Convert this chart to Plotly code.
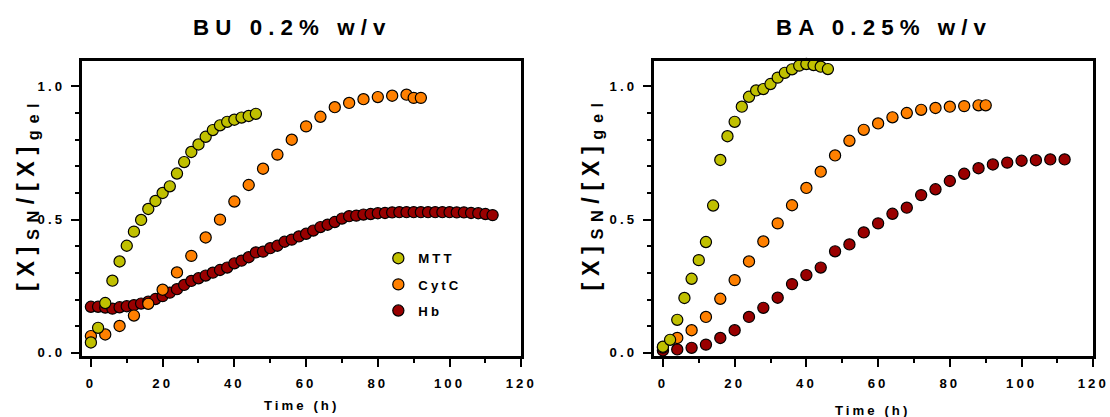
import plotly.graph_objects as go

# reference canvas is 1110 x 417; the page is rendered slightly larger and shrunk
REF_W, REF_H = 1110, 417
K = 1110 / 1094
W, H = round(REF_W * K), round(REF_H * K)

# ---------------- data ----------------
bu_mtt_t = list(range(0, 47, 2))
bu_mtt_y = [0.039, 0.094, 0.187, 0.271, 0.343, 0.402, 0.455, 0.499, 0.540, 0.570,
            0.600, 0.625, 0.673, 0.716, 0.754, 0.782, 0.811, 0.836, 0.854, 0.867,
            0.875, 0.883, 0.889, 0.897]

bu_cytc_t = list(range(0, 89, 4)) + [90, 92]
bu_cytc_y = [0.063, 0.069, 0.101, 0.140, 0.184, 0.237, 0.302, 0.364, 0.433, 0.500,
             0.568, 0.630, 0.691, 0.744, 0.800, 0.850, 0.886, 0.922, 0.938, 0.952,
             0.960, 0.965, 0.969, 0.957, 0.957]

bu_hb_t = list(range(0, 113, 2))
bu_hb_y = [0.173, 0.173, 0.170, 0.166, 0.171, 0.175, 0.179, 0.185, 0.192, 0.202,
           0.213, 0.226, 0.239, 0.255, 0.270, 0.280, 0.290, 0.301, 0.311, 0.320,
           0.336, 0.346, 0.359, 0.377, 0.380, 0.393, 0.402, 0.417, 0.425, 0.437,
           0.447, 0.459, 0.472, 0.481, 0.491, 0.504, 0.513, 0.515, 0.519, 0.521,
           0.524, 0.525, 0.527, 0.528, 0.528, 0.528, 0.528, 0.528, 0.528, 0.528,
           0.528, 0.527, 0.527, 0.525, 0.524, 0.521, 0.517]

ba_mtt_t = list(range(0, 47, 2))
ba_mtt_y = [0.023, 0.049, 0.124, 0.206, 0.278, 0.348, 0.416, 0.553, 0.724, 0.813,
            0.867, 0.924, 0.961, 0.985, 0.990, 1.009, 1.033, 1.051, 1.064, 1.078,
            1.084, 1.080, 1.074, 1.065]

ba_cytc_t = list(range(0, 89, 4)) + [90]
ba_cytc_y = [0.020, 0.056, 0.085, 0.135, 0.203, 0.273, 0.343, 0.418, 0.486, 0.554,
             0.619, 0.680, 0.741, 0.796, 0.837, 0.861, 0.884, 0.900, 0.912, 0.919,
             0.924, 0.926, 0.929, 0.929]

ba_hb_t = list(range(0, 113, 4))
ba_hb_y = [0.009, 0.013, 0.019, 0.031, 0.056, 0.085, 0.135, 0.169, 0.207, 0.258,
           0.292, 0.320, 0.381, 0.407, 0.452, 0.486, 0.522, 0.545, 0.592, 0.614,
           0.645, 0.672, 0.693, 0.707, 0.714, 0.721, 0.723, 0.726, 0.726]

x_ticks = [0, 20, 40, 60, 80, 100, 120]
x_minor = [10, 30, 50, 70, 90, 110]
y_ticks = [0.0, 0.5, 1.0]
y_ticklabels = ["0.0", "0.5", "1.0"]
y_minor = [0.1, 0.2, 0.3, 0.4, 0.6, 0.7, 0.8, 0.9]

series_names = ["MTT", "CytC", "Hb"]
colors = {"MTT": "rgb(192,192,0)", "CytC": "rgb(255,128,0)", "Hb": "rgb(153,0,0)"}

titles = ["BU 0.2% w/v", "BA 0.25% w/v"]
x_title = "Time (h)"

FONT = "Liberation Sans, Arial, sans-serif"


def s(v):
    return v * K


def sp(text, px):
    return f'<span style="letter-spacing:{s(px):.2f}px">{text}</span>'


fig = go.Figure()

panels = [
    (("x", "y"), {"MTT": (bu_mtt_t, bu_mtt_y), "CytC": (bu_cytc_t, bu_cytc_y), "Hb": (bu_hb_t, bu_hb_y)}, True),
    (("x2", "y2"), {"MTT": (ba_mtt_t, ba_mtt_y), "CytC": (ba_cytc_t, ba_cytc_y), "Hb": (ba_hb_t, ba_hb_y)}, False),
]

rank = {"MTT": 1, "CytC": 2, "Hb": 3}
for (xa, ya), data, legend in panels:
    for name in ["Hb", "CytC", "MTT"]:
        t, v = data[name]
        fig.add_trace(go.Scatter(
            x=t, y=v, xaxis=xa, yaxis=ya, mode="markers",
            name=sp(name, 3), showlegend=legend, legendrank=rank[name],
            legendgroup=name, cliponaxis=False,
            marker=dict(size=s(11), color=colors[name], line=dict(color="black", width=1.2)),
        ))


def px_x(p):
    return p / REF_W


def px_y(p):
    return 1 - p / REF_H


common_x = dict(
    range=[-2.6, 120.05], showline=True, linewidth=s(2.5), linecolor="black", mirror=True,
    showgrid=False, zeroline=False, ticks="outside", ticklen=s(8), tickwidth=2, tickcolor="black",
    tickmode="array", tickvals=x_ticks, ticktext=[sp(str(v), 3) for v in x_ticks],
    tickfont=dict(family=FONT, size=s(13), color="black", weight="bold"),
    minor=dict(tickmode="array", tickvals=x_minor, ticks="outside", ticklen=s(4), tickwidth=2, tickcolor="black"),
    ticklabelstandoff=5,
)
common_y = dict(
    range=[-0.0125, 1.095], showline=True, linewidth=s(2.5), linecolor="black", mirror=True,
    showgrid=False, zeroline=False, ticks="outside", ticklen=s(8), tickwidth=2, tickcolor="black",
    tickmode="array", tickvals=y_ticks, ticktext=[sp(t, 3) for t in y_ticklabels],
    tickfont=dict(family=FONT, size=s(13), color="black", weight="bold"),
    minor=dict(tickmode="array", tickvals=y_minor, ticks="outside", ticklen=s(4), tickwidth=2, tickcolor="black"),
    ticklabelstandoff=3,
)

ydom = [px_y(354.5), px_y(60.8)]
fig.update_layout(
    width=W, height=H, autosize=False, margin=dict(l=0, r=0, t=0, b=0),
    paper_bgcolor="white", plot_bgcolor="white",
    xaxis=dict(domain=[px_x(81.5), px_x(521.0)], anchor="y", **common_x),
    yaxis=dict(domain=ydom, anchor="x", **common_y),
    xaxis2=dict(domain=[px_x(653.0), px_x(1092.5)], anchor="y2", **common_x),
    yaxis2=dict(domain=ydom, anchor="x2", **common_y),
    showlegend=True,
    legend=dict(x=px_x(378), y=px_y(242), xanchor="left", yanchor="top",
                bgcolor="rgba(0,0,0,0)", tracegroupgap=round(s(6)),
                font=dict(family=FONT, size=s(13), color="black", weight="bold")),
    font=dict(family=FONT, color="black"),
)

ytitle = sp("[X]<sub>SN</sub>/[X]<sub>gel</sub>", 6.5)
annots = [
    dict(x=px_x(292), y=px_y(27), text=sp(titles[0], 6), font=dict(size=s(22))),
    dict(x=px_x(883), y=px_y(27), text=sp(titles[1], 6), font=dict(size=s(22))),
    dict(x=px_x(301), y=px_y(404), text=sp(x_title, 3), font=dict(size=s(13))),
    dict(x=px_x(872), y=px_y(409), text=sp(x_title, 3), font=dict(size=s(13))),
    dict(x=px_x(28), y=px_y(193), text=ytitle, font=dict(size=s(23)), textangle=-90),
    dict(x=px_x(592), y=px_y(193), text=ytitle, font=dict(size=s(23)), textangle=-90),
]
for a in annots:
    a["font"].update(family=FONT, color="black", weight="bold")
    fig.add_annotation(xref="paper", yref="paper", xanchor="center", yanchor="middle",
                       showarrow=False, **a)

fig.write_html(
    "out.html",
    config={"responsive": False, "displayModeBar": False},
    post_script="document.body.style.margin='0';document.body.style.overflow='hidden';",
)
